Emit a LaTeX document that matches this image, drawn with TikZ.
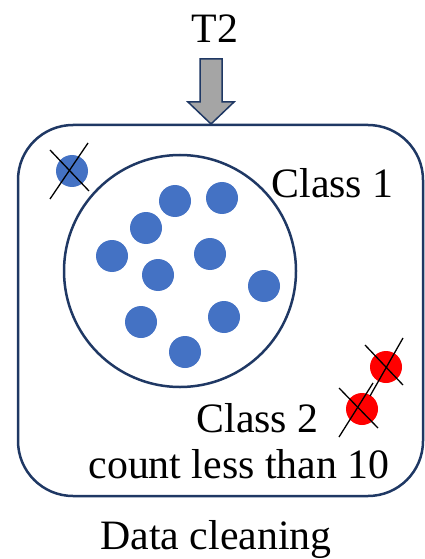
\documentclass[tikz,border=0pt]{standalone}
\usepackage{fontspec}
\setmainfont{Liberation Serif}
\usetikzlibrary{arrows.meta,positioning,calc}
\definecolor{navy}{HTML}{1F3864}
\definecolor{dotblue}{HTML}{4472C4}
\definecolor{arrowgray}{HTML}{A5A5A5}

\begin{document}
\begin{tikzpicture}[x=1bp, y=-1bp, font=\fontsize{42}{46}\selectfont,
    keep/.style={fill=dotblue},
    drop/.style={fill=red},
    cross/.style={black, line width=1.3bp}]
  \useasboundingbox (0,0) rectangle (424,559);
  % input arrow
  \node[anchor=base] (t2) at (215,43) {T2};
  \draw[navy, line width=1.5bp, fill=arrowgray] (200,59) -- (222,59) -- (222,102) -- (234,102)
    -- (211,124) -- (188,102) -- (200,102) -- cycle;
  % outer box and class 1 set
  \draw[navy, line width=2.5bp, rounded corners=55bp] (18,125) rectangle (423,496);
  \draw[navy, line width=2.5bp] (180,271) circle (116);
  \foreach \x/\y in {175/201, 222/198, 146/228, 112/256, 210/254,
                     158/275, 264/286, 141/322, 224/317, 185/352}
    \fill[keep] (\x,\y) circle (16);
  % removed points
  \fill[keep] (72,171) circle (16);
  \draw[cross] (50,150) -- (89,191);
  \draw[cross] (88,143) -- (50,199);
  \fill[drop] (386,367) circle (16);
  \fill[drop] (362,409) circle (16);
  \draw[cross] (365,345) -- (403,385);
  \draw[cross] (403,338) -- (370,396);
  \draw[cross] (339,388) -- (378,428);
  \draw[cross] (373,383) -- (339,437);
  % labels
  \node[anchor=base west] (c1) at (268,198) {Class 1};
  \node[anchor=base west] (c2) at (193,432) {Class 2};
  \node[anchor=base west] (cnt) at (85,478) {count less than 10};
  \node[anchor=base] (cap) at (216,549) {Data cleaning};
\end{tikzpicture}
\end{document}
